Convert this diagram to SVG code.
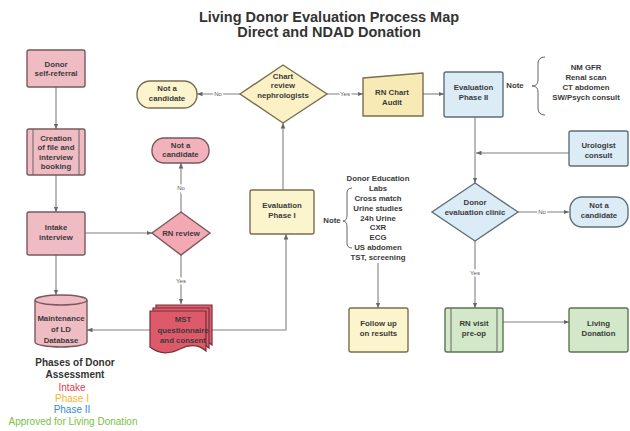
<svg xmlns="http://www.w3.org/2000/svg" width="630" height="431" viewBox="0 0 630 431">
<defs>
<style>
.t{font-family:"Liberation Sans",Arial,sans-serif;font-weight:bold;font-size:7.8px;fill:#3a3a3a;text-anchor:middle;dominant-baseline:middle}
.lb{font-family:"Liberation Sans",Arial,sans-serif;font-size:6px;fill:#555;text-anchor:middle;dominant-baseline:middle;stroke:#fff;stroke-width:3px;paint-order:stroke}
.c{fill:none;stroke:#808080;stroke-width:1.1}
.pk{fill:#f0bcc4;stroke:#7a585c;stroke-width:1.4}
.yl{fill:#fcf4cc;stroke:#7a6e50;stroke-width:1.4}
.bl{fill:#dbecf7;stroke:#5f6f7b;stroke-width:1.4}
.gr{fill:#d2e8c8;stroke:#5c7456;stroke-width:1.4}
.br{fill:none;stroke:#666;stroke-width:1}
.lg{font-family:"Liberation Sans",Arial,sans-serif;font-size:10px;text-anchor:middle;dominant-baseline:middle}
</style>
<marker id="a" viewBox="0 0 6 6" refX="6" refY="3" markerWidth="5" markerHeight="5" orient="auto"><path d="M0,0.5L6,3L0,5.5z" fill="#666"/></marker>
<path id="doc" d="M0,0H56V40C48,33 40,33 30,38S10,44 0,36Z"/>
</defs>
<rect width="630" height="431" fill="#fff"/>

<g id="title" font-family="'Liberation Sans',Arial,sans-serif" font-weight="bold" font-size="14.5" fill="#333" text-anchor="middle">
<text x="329" y="22">Living Donor Evaluation Process Map</text>
<text x="329" y="37">Direct and NDAD Donation</text>
</g>

<g id="connectors" class="c">
<path class="c" d="M56,87V129" marker-end="url(#a)"/>
<path class="c" d="M56,175V212" marker-end="url(#a)"/>
<path class="c" d="M85,233H152" marker-end="url(#a)"/>
<path class="c" d="M56,255V295" marker-end="url(#a)"/>
<path class="c" d="M181,212V163" marker-end="url(#a)"/>
<path class="c" d="M181,255V304" marker-end="url(#a)"/>
<path class="c" d="M150,330H87" marker-end="url(#a)"/>
<path class="c" d="M212,330H286V234" marker-end="url(#a)"/>
<path class="c" d="M283,190V123" marker-end="url(#a)"/>
<path class="c" d="M240,94H197" marker-end="url(#a)"/>
<path class="c" d="M327,94H363" marker-end="url(#a)"/>
<path class="c" d="M423,94H444" marker-end="url(#a)"/>
<path class="c" d="M475,117V183" marker-end="url(#a)"/>
<path class="c" d="M569,153H476" marker-end="url(#a)"/>
<path class="c" d="M518,212H569" marker-end="url(#a)"/>
<path class="c" d="M475,241V308" marker-end="url(#a)"/>
<path class="c" d="M503,322H569" marker-end="url(#a)"/>
<path class="c" d="M378,263V308" marker-end="url(#a)"/>
<text class="lb" x="218" y="94">No</text>
<text class="lb" x="345" y="94">Yes</text>
<text class="lb" x="181" y="188">No</text>
<text class="lb" x="181" y="281">Yes</text>
<text class="lb" x="542" y="212">No</text>
<text class="lb" x="475" y="273">Yes</text>
</g>

<g id="donor-self-referral">
<rect class="pk" x="27" y="50" width="58" height="37" rx="2"/>
<text class="t" x="56" y="64.5">Donor</text>
<text class="t" x="56" y="74">self-referral</text>
</g>

<g id="creation-of-file">
<rect class="pk" x="27" y="129" width="58" height="46" rx="2"/>
<path class="br" d="M33,129V175M79,129V175" stroke="#7a585c"/>
<text class="t" x="56" y="138.5">Creation</text>
<text class="t" x="56" y="148">of file and</text>
<text class="t" x="56" y="157.5">interview</text>
<text class="t" x="56" y="167">booking</text>
</g>

<g id="intake-interview">
<rect class="pk" x="27" y="212" width="58" height="43" rx="2"/>
<text class="t" x="56" y="228">Intake</text>
<text class="t" x="56" y="237.5">interview</text>
</g>

<g id="maintenance-ld-database">
<path class="pk" d="M35,300A26,5 0 0 1 87,300V342A26,5 0 0 1 35,342Z"/>
<path class="pk" d="M35,300A26,5 0 0 0 87,300" fill="none"/>
<text class="t" x="61" y="319">Maintenance</text>
<text class="t" x="61" y="330">of LD</text>
<text class="t" x="61" y="341">Database</text>
</g>

<g id="rn-review">
<polygon points="181,212 210,233 181,255 152,233" fill="#f2a9b4" stroke="#7a585c" stroke-width="1.4"/>
<text class="t" x="181" y="233.5">RN review</text>
</g>

<g id="not-candidate-intake">
<rect x="152" y="138" width="57" height="25" rx="12" fill="#f2b2bc" stroke="#7a585c" stroke-width="1.4"/>
<text class="t" x="180.5" y="145.5">Not a</text>
<text class="t" x="180.5" y="155">candidate</text>
</g>

<g id="mst-questionnaire">
<use href="#doc" x="156" y="305" fill="#e0606f" stroke="#7a2c38" stroke-width="1.2"/>
<use href="#doc" x="153" y="308" fill="#e0606f" stroke="#7a2c38" stroke-width="1.2"/>
<use href="#doc" x="150" y="311" fill="#de5a6a" stroke="#7a2c38" stroke-width="1.2"/>
<text class="t" x="183" y="320" fill="#2a2a2a">MST</text>
<text class="t" x="183" y="330.5" fill="#2a2a2a">questionnaire</text>
<text class="t" x="183" y="340.5" fill="#2a2a2a">and consent</text>
</g>

<g id="evaluation-phase-1">
<rect class="yl" x="250" y="190" width="64" height="44" rx="2"/>
<text class="t" x="282" y="206">Evaluation</text>
<text class="t" x="282" y="216">Phase I</text>
</g>

<g id="note-phase-1">
<text class="t" x="332" y="221">Note</text>
<path class="br" d="M352,188Q347,188 347,193V215Q347,221 343,221Q347,221 347,227V243Q347,248 352,248"/>
<text class="t" x="378" y="179">Donor Education</text>
<text class="t" x="378" y="189">Labs</text>
<text class="t" x="378" y="198.5">Cross match</text>
<text class="t" x="378" y="208.5">Urine studies</text>
<text class="t" x="378" y="218.5">24h Urine</text>
<text class="t" x="378" y="228">CXR</text>
<text class="t" x="378" y="238">ECG</text>
<text class="t" x="378" y="248">US abdomen</text>
<text class="t" x="378" y="258">TST, screening</text>
</g>

<g id="chart-review">
<polygon points="283,65 327,94 283,123 240,94" fill="#fcf1c4" stroke="#7a6e50" stroke-width="1.4"/>
<text class="t" x="283" y="76.5">Chart</text>
<text class="t" x="283" y="86">review</text>
<text class="t" x="283" y="95.5">nephrologists</text>
</g>

<g id="not-candidate-phase-1">
<rect class="yl" x="137" y="81" width="60" height="27" rx="13"/>
<text class="t" x="167" y="89">Not a</text>
<text class="t" x="167" y="99">candidate</text>
</g>

<g id="rn-chart-audit">
<polygon points="363,78 423,73 423,116 363,116" fill="#f8eab4" stroke="#7a6e50" stroke-width="1.4" stroke-linejoin="round"/>
<text class="t" x="392" y="93">RN Chart</text>
<text class="t" x="392" y="102.5">Audit</text>
</g>

<g id="evaluation-phase-2">
<rect class="bl" x="444" y="72" width="59" height="45" rx="2"/>
<text class="t" x="473.5" y="88">Evaluation</text>
<text class="t" x="473.5" y="98">Phase II</text>
</g>

<g id="note-phase-2">
<text class="t" x="515" y="86">Note</text>
<path class="br" d="M545,57Q538,57 538,64V80Q538,86 532,86Q538,86 538,92V108Q538,115 545,115"/>
<text class="t" x="586" y="68">NM GFR</text>
<text class="t" x="586" y="78">Renal scan</text>
<text class="t" x="586" y="88">CT abdomen</text>
<text class="t" x="586" y="98">SW/Psych consult</text>
</g>

<g id="urologist-consult">
<rect class="bl" x="569" y="131" width="59" height="35" rx="2"/>
<text class="t" x="598.5" y="146">Urologist</text>
<text class="t" x="598.5" y="155.5">consult</text>
</g>

<g id="donor-evaluation-clinic">
<polygon points="475,183 518,212 475,241 432,212" fill="#dbecf7" stroke="#5f6f7b" stroke-width="1.4"/>
<text class="t" x="475" y="203">Donor</text>
<text class="t" x="475" y="213">evaluation clinic</text>
</g>

<g id="not-candidate-phase-2">
<rect class="bl" x="570" y="197" width="58" height="30" rx="12"/>
<text class="t" x="599" y="206">Not a</text>
<text class="t" x="599" y="216">candidate</text>
</g>

<g id="follow-up-results">
<rect class="yl" x="349" y="308" width="59" height="44" rx="2"/>
<text class="t" x="378.5" y="324">Follow up</text>
<text class="t" x="378.5" y="334">on results</text>
</g>

<g id="rn-visit-pre-op">
<rect class="gr" x="445" y="308" width="58" height="44" rx="2"/>
<path class="br" d="M451,308V352M497,308V352" stroke="#5c7456"/>
<text class="t" x="474" y="324">RN visit</text>
<text class="t" x="474" y="334">pre-op</text>
</g>

<g id="living-donation">
<rect class="gr" x="569" y="308" width="59" height="44" rx="2"/>
<text class="t" x="598.5" y="324">Living</text>
<text class="t" x="598.5" y="334">Donation</text>
</g>

<g id="legend">
<text class="lg" x="75" y="363" font-weight="bold" font-size="10.5" fill="#333">Phases of Donor</text>
<text class="lg" x="75" y="375" font-weight="bold" font-size="10.5" fill="#333">Assessment</text>
<text class="lg" x="72" y="388" fill="#e0404f">Intake</text>
<text class="lg" x="72" y="399" fill="#f2b52e">Phase I</text>
<text class="lg" x="72" y="410" fill="#3a88d0">Phase II</text>
<text class="lg" x="73" y="422" fill="#7cc043">Approved for Living Donation</text>
</g>
</svg>
